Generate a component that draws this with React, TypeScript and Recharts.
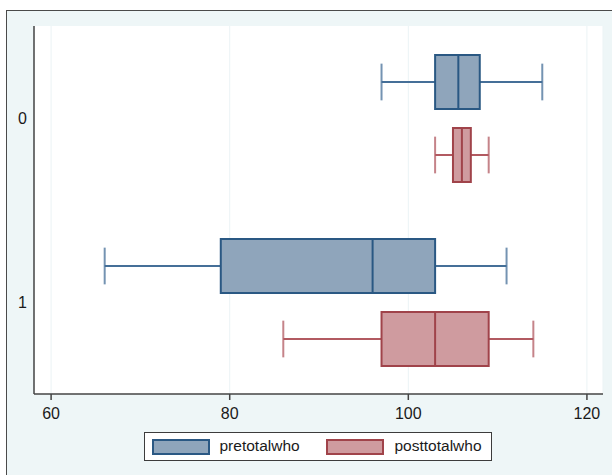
import React from 'react';
import { ComposedChart, Bar, XAxis, YAxis, CartesianGrid, Legend } from 'recharts';

// Categories (group) and box-plot statistics per series
const groups = ['0', '1'];
const preMin = [97, 66];
const preQ1 = [103, 79];
const preMed = [105.6, 96];
const preQ3 = [108, 103];
const preMax = [115, 111];
const postMin = [103, 86];
const postQ1 = [105, 97];
const postMed = [106, 103];
const postQ3 = [107, 109];
const postMax = [109, 114];
const xTicks = [60, 80, 100, 120];
const seriesNames = ['pretotalwho', 'posttotalwho'];

const data = groups.map((g, i) => ({
  group: g,
  preMin: preMin[i], preQ1: preQ1[i], preMed: preMed[i], preQ3: preQ3[i], preMax: preMax[i],
  postMin: postMin[i], postQ1: postQ1[i], postMed: postMed[i], postQ3: postQ3[i], postMax: postMax[i],
}));

const STYLE: Record<string, { fill: string; edge: string; line: string }> = {
  pre: { fill: '#8fa5bb', edge: '#2a5883', line: '#456f98' },
  post: { fill: '#cf9b9f', edge: '#a0434a', line: '#b25a61' },
};
const LEGEND_STYLE: Record<string, { fill: string; edge: string }> = {
  pretotalwho: { fill: '#8fa5bb', edge: '#2a5883' },
  posttotalwho: { fill: '#cf9b9f', edge: '#a0434a' },
};

const FONT = '"Liberation Sans", Arial, Helvetica, sans-serif';

const makeBox = (kind: 'pre' | 'post') => (props: any) => {
  const { x, y, width, height, payload } = props;
  const lo = payload[kind + 'Min'];
  const hi = payload[kind + 'Max'];
  const px = (v: number) => x + ((v - lo) / (hi - lo)) * width;
  const s = STYLE[kind];
  const cy = y + height / 2;
  const capH = height * 0.68;
  const q1 = px(payload[kind + 'Q1']);
  const q3 = px(payload[kind + 'Q3']);
  const med = px(payload[kind + 'Med']);
  const mn = px(lo);
  const mx = px(hi);
  return (
    <g>
      <line x1={mn} x2={q1} y1={cy} y2={cy} stroke={s.line} strokeWidth={2} />
      <line x1={q3} x2={mx} y1={cy} y2={cy} stroke={s.line} strokeWidth={2} />
      <line x1={mn} x2={mn} y1={cy - capH / 2} y2={cy + capH / 2} stroke={s.line} strokeWidth={2} strokeOpacity={0.75} />
      <line x1={mx} x2={mx} y1={cy - capH / 2} y2={cy + capH / 2} stroke={s.line} strokeWidth={2} strokeOpacity={0.75} />
      <rect x={q1} y={y} width={q3 - q1} height={height} fill={s.fill} stroke={s.edge} strokeWidth={2} />
      <line x1={med} x2={med} y1={y} y2={y + height} stroke={s.edge} strokeWidth={2} />
    </g>
  );
};

const LegendBox = (props: any) => {
  const payload = props.payload || [];
  const ordered = seriesNames
    .map((n) => payload.find((p: any) => p.value === n))
    .filter(Boolean);
  const swLeft = [8, 182];
  const txLeft = [76, 251];
  return (
    <div
      style={{
        position: 'relative',
        width: 348,
        height: 29,
        boxSizing: 'border-box',
        border: '1.5px solid #3c3c3c',
        background: '#fff',
        fontFamily: FONT,
        fontSize: 15.5,
        color: '#1a1a1a',
      }}
    >
      {ordered.map((p: any, i: number) => {
        const st = LEGEND_STYLE[p.value] || { fill: p.color, edge: p.color };
        return (
          <React.Fragment key={p.value}>
            <div
              style={{
                position: 'absolute',
                left: swLeft[i] - 1.5,
                top: 6,
                width: 58,
                height: 16,
                boxSizing: 'border-box',
                background: st.fill,
                border: `2px solid ${st.edge}`,
              }}
            />
            <div
              style={{
                position: 'absolute',
                left: txLeft[i] - 1.5,
                top: 0,
                height: 26,
                lineHeight: '26px',
                whiteSpace: 'nowrap',
              }}
            >
              {p.value}
            </div>
          </React.Fragment>
        );
      })}
    </div>
  );
};

export default function App() {
  return (
    <div style={{ position: 'absolute', left: 0, top: 0, width: 612, height: 475, background: '#fff', overflow: 'hidden' }}>
      <div
        style={{
          position: 'absolute',
          left: 6,
          top: 9.5,
          width: 640,
          height: 500,
          background: '#eef6f7',
          border: '1.5px solid #4a4a4a',
        }}
      />
      <div style={{ position: 'absolute', left: 0, top: 0 }}>
        <ComposedChart
          width={612}
          height={475}
          data={data}
          layout="vertical"
          margin={{ top: 26, right: 9, left: 0, bottom: 51 }}
          barGap={19}
          barSize={54}
        >
          <CartesianGrid horizontal={false} vertical stroke="#ebf3f5" strokeWidth={1} fill="#ffffff" />
          <XAxis
            type="number"
            dataKey="preMax"
            domain={[58.085, 121.8]}
            ticks={xTicks}
            allowDataOverflow
            height={30}
            tickSize={6}
            tickMargin={8}
            axisLine={{ stroke: '#444', strokeWidth: 1.5 }}
            tickLine={{ stroke: '#444', strokeWidth: 1.5 }}
            tick={{ fill: '#1a1a1a', fontSize: 16, fontFamily: FONT }}
          />
          <YAxis
            type="category"
            dataKey="group"
            width={34}
            tickLine={false}
            tickSize={5}
            tickMargin={2}
            axisLine={{ stroke: '#444', strokeWidth: 1.5 }}
            tick={{ fill: '#1a1a1a', fontSize: 16, fontFamily: FONT }}
          />
          <Bar
            name={seriesNames[0]}
            dataKey={(d: any) => [d.preMin, d.preMax]}
            fill="#8fa5bb"
            shape={makeBox('pre')}
            isAnimationActive={false}
          />
          <Bar
            name={seriesNames[1]}
            dataKey={(d: any) => [d.postMin, d.postMax]}
            fill="#cf9b9f"
            shape={makeBox('post')}
            isAnimationActive={false}
          />
          <Legend
            layout="horizontal"
            verticalAlign="middle"
            align="center"
            width={348}
            height={29}
            wrapperStyle={{ position: 'absolute', left: 144, top: 432, width: 348, height: 29, margin: 0 }}
            content={<LegendBox />}
          />
        </ComposedChart>
      </div>
    </div>
  );
}
